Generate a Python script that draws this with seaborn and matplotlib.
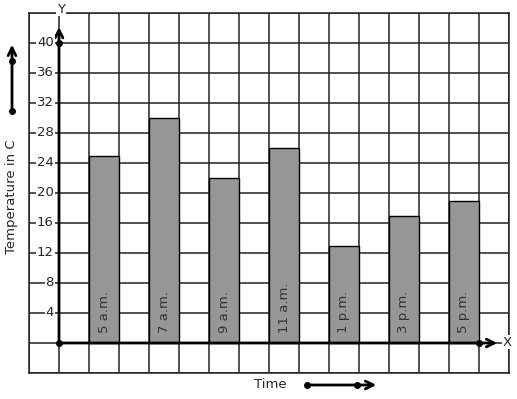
import numpy as np
import pandas as pd
import matplotlib
matplotlib.use('Agg')
import matplotlib.pyplot as plt
import seaborn as sns

# Temperature readings through the day
hours = [5, 7, 9, 11, 13, 15, 17]
time_labels = ['5 a.m.', '7 a.m.', '9 a.m.', '11 a.m.', '1 p.m.', '3 p.m.', '5 p.m.']
temps = [25, 30, 22, 26, 13, 17, 19]
y_ticks = [4, 8, 12, 16, 20, 24, 28, 32, 36, 40]

df = pd.DataFrame({'Hour': hours, 'Temp': temps, 'Label': time_labels})

sns.set_style('white')
plt.rcParams['font.family'] = ['DejaVu Sans']

fig = plt.figure(figsize=(5.17, 3.99), dpi=100)
ax = fig.add_axes([29 / 517, 26 / 399, 480 / 517, 360 / 399])

# graph paper grid (one cell = one hour / 4 degrees)
ax.set_xlim(2.5, 18.5)
ax.set_ylim(-4, 44)
ax.set_xticks(np.arange(2.5, 18.6, 1))
ax.set_yticks(np.arange(-4, 45, 4))
ax.grid(True, color='#222222', lw=1.1)
ax.set_axisbelow(True)
ax.tick_params(length=0, labelbottom=False, labelleft=False)
for s in ax.spines.values():
    s.set_color('#222222')
    s.set_linewidth(1.1)

sns.barplot(data=df, x='Hour', y='Temp', native_scale=True, width=0.5,
            color='#979797', saturation=1, edgecolor='black', linewidth=1, ax=ax)
ax.set_xlabel('')
ax.set_ylabel('')

# labels inside bars
for h, lab in zip(hours, time_labels):
    ax.text(h, 1.3, lab, rotation=90, ha='center', va='bottom', fontsize=9.5, color='#333333')

# axes with arrows
ax.annotate('', xy=(3.5, 42.5), xytext=(3.5, 0),
            arrowprops=dict(arrowstyle='->', lw=2, color='black', mutation_scale=14))
ax.annotate('', xy=(18.2, 0), xytext=(3.5, 0),
            arrowprops=dict(arrowstyle='->', lw=2, color='black', mutation_scale=14))
ax.plot([3.5, 3.5, 17.5], [0, 40, 0], 'o', color='black', ms=4, clip_on=False)
ax.text(3.57, 44.5, 'Y', ha='center', va='center', fontsize=9.5,
        bbox=dict(facecolor='white', edgecolor='none', pad=0.5))
ax.text(18.45, 0.1, 'X', ha='center', va='center', fontsize=9.5,
        bbox=dict(facecolor='white', edgecolor='none', pad=0.5))

# y tick labels sitting on the grid lines
for t in y_ticks:
    ax.text(3.33, t, str(t), ha='right', va='center', fontsize=9.5,
            bbox=dict(facecolor='white', edgecolor='none', pad=0.6))

# axis titles and direction arrows
fig.text(12 / 517, 1 - 197 / 399, 'Temperature in C', rotation=90, ha='center', va='center', fontsize=9.5)
fig.text(270 / 517, 14 / 399, 'Time', ha='center', va='center', fontsize=9.5)

ax.annotate('', xy=(12, 357), xytext=(12, 288), xycoords='figure pixels', textcoords='figure pixels',
            arrowprops=dict(arrowstyle='->', lw=2, color='black', mutation_scale=14))
ax.annotate('', xy=(379, 14), xytext=(307, 14), xycoords='figure pixels', textcoords='figure pixels',
            arrowprops=dict(arrowstyle='->', lw=2, color='black', mutation_scale=14))
fig.add_artist(plt.Line2D([12 / 517, 12 / 517], [338 / 399, 288 / 399], marker='o', ms=4,
                          lw=0, color='black'))
fig.add_artist(plt.Line2D([307 / 517, 357 / 517], [14 / 399, 14 / 399], marker='o', ms=4,
                          lw=0, color='black'))

fig.savefig('out.png', dpi=100)
